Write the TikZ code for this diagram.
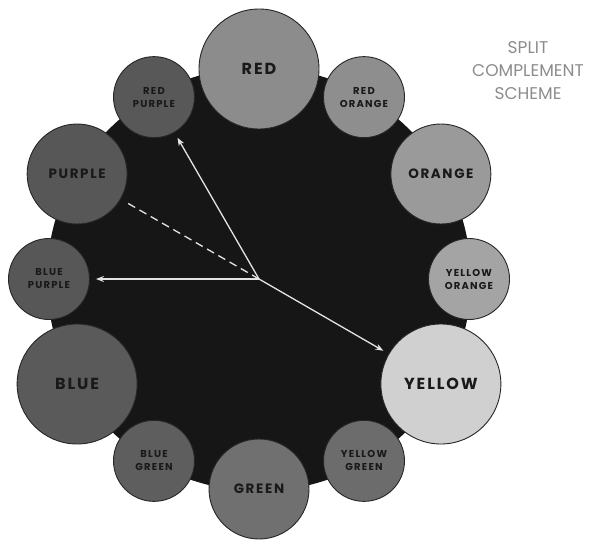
\documentclass[tikz,border=0pt]{standalone}
\usepackage{fontspec}
\setmainfont{Poppins}
\newfontfamily\lblfont[LetterSpace=12]{Poppins}
\newfontfamily\titlefont{Poppins}
\usetikzlibrary{arrows.meta}
\definecolor{bgdark}{HTML}{161616}
\definecolor{cred}{HTML}{8C8C8C}
\definecolor{credorange}{HTML}{8E8E8E}
\definecolor{corange}{HTML}{9A9A9A}
\definecolor{cyelloworange}{HTML}{A4A4A4}
\definecolor{cyellow}{HTML}{D0D0D0}
\definecolor{cyellowgreen}{HTML}{6C6C6C}
\definecolor{cgreen}{HTML}{707070}
\definecolor{cbluegreen}{HTML}{5E5E5E}
\definecolor{cblue}{HTML}{5A5A5A}
\definecolor{cbluepurple}{HTML}{575757}
\definecolor{cpurple}{HTML}{575757}
\definecolor{credpurple}{HTML}{585858}
\definecolor{arrowcol}{HTML}{E4E4E4}
\begin{document}
\begin{tikzpicture}[x=1pt,y=1pt,
  wheel/.style={circle,draw=black!85,line width=0.9pt,inner sep=0pt,align=center,text=black!90},
  primary/.style={wheel,minimum size=120pt,font=\lblfont\bfseries\fontsize{16}{18}\selectfont},
  secondary/.style={wheel,minimum size=100pt,font=\lblfont\bfseries\fontsize{13.5}{16}\selectfont},
  tertiary/.style={wheel,minimum size=81pt,font=\lblfont\bfseries\fontsize{10}{13}\selectfont},
  arr/.style={draw=arrowcol,line width=1.3pt,-{Stealth[length=8pt,width=6pt]},shorten >=6pt},
  dashline/.style={draw=arrowcol,line width=1.3pt,dash pattern=on 8pt off 5pt,shorten >=5pt},
  title/.style={align=center,text=black!45,font=\titlefont\fontsize{17}{23}\selectfont}]
\useasboundingbox (0,0) rectangle (591,539);
\begin{scope}[shift={(259,260)}]
  \coordinate (C) at (0,0);
  \fill[bgdark] (C) circle (212pt);
  \node[primary,fill=cred] (red) at (90:210pt) {RED};
  \node[tertiary,fill=credorange] (ro) at (60:210pt) {RED\\ORANGE};
  \node[secondary,fill=corange] (orange) at (30:210pt) {ORANGE};
  \node[tertiary,fill=cyelloworange] (yo) at (0:210pt) {YELLOW\\ORANGE};
  \node[primary,fill=cyellow] (yellow) at (-30:210pt) {YELLOW};
  \node[tertiary,fill=cyellowgreen] (yg) at (-60:210pt) {YELLOW\\GREEN};
  \node[secondary,fill=cgreen] (green) at (-90:210pt) {GREEN};
  \node[tertiary,fill=cbluegreen] (bg) at (-120:210pt) {BLUE\\GREEN};
  \node[primary,fill=cblue] (blue) at (-150:210pt) {BLUE};
  \node[tertiary,fill=cbluepurple] (bp) at (180:210pt) {BLUE\\PURPLE};
  \node[secondary,fill=cpurple] (purple) at (150:210pt) {PURPLE};
  \node[tertiary,fill=credpurple] (rp) at (120:210pt) {RED\\PURPLE};
  \draw[dashline] (C) -- (purple);
  \draw[arr] (C) -- (rp);
  \draw[arr] (C) -- (bp);
  \draw[arr] (C) -- (yellow);
\end{scope}
\node[title] (ttl) at (528,468) {SPLIT\\COMPLEMENT\\SCHEME};
\end{tikzpicture}
\end{document}
